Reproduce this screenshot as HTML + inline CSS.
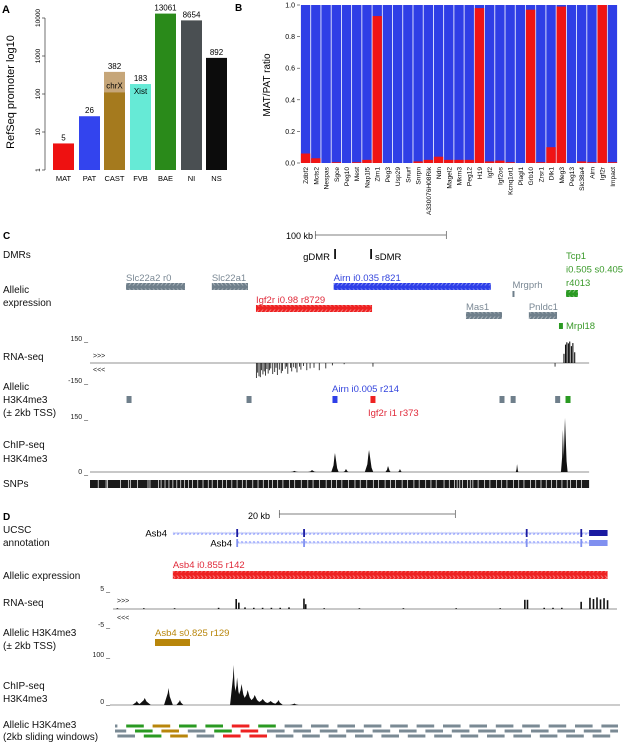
<!DOCTYPE html>
<html><head><meta charset="utf-8">
<style>
html,body{margin:0;padding:0;background:#fff;}
svg{display:block;font-family:"Liberation Sans",Arial,sans-serif;}
.lbl{font-size:10px;fill:#111;}
.tk{font-size:7px;fill:#222;}
</style></head>
<body>
<svg id="fig" width="630" height="742" viewBox="0 0 630 742" xmlns="http://www.w3.org/2000/svg">
<defs>
<pattern id="chevR" width="4" height="7" patternUnits="userSpaceOnUse"><path d="M0.8,1.5 L3,3.5 L0.8,5.5" fill="none" stroke="#fff" stroke-opacity="0.5" stroke-width="0.7"/></pattern>
<pattern id="chevL" width="4" height="7" patternUnits="userSpaceOnUse"><path d="M3.2,1.5 L1,3.5 L3.2,5.5" fill="none" stroke="#fff" stroke-opacity="0.5" stroke-width="0.7"/></pattern>
<pattern id="chevT" width="4" height="4" patternUnits="userSpaceOnUse"><path d="M1,1 L2.8,2 L1,3" fill="none" stroke="#7f8fff" stroke-width="0.6"/></pattern>
</defs>
<g id="static">
<text x="2" y="13" font-size="11" font-weight="bold">A</text>
<text x="235" y="11" font-size="10" font-weight="bold">B</text>
<text x="3" y="239" font-size="10" font-weight="bold">C</text>
<text x="3" y="520" font-size="10" font-weight="bold">D</text>
<text transform="translate(14,92) rotate(-90)" text-anchor="middle" font-size="11">RefSeq promoter log10</text>
<text transform="translate(270,85) rotate(-90)" text-anchor="middle" font-size="10">MAT/PAT ratio</text>

<text class="lbl" x="3" y="258">DMRs</text>
<text class="lbl" x="3" y="293">Allelic</text>
<text class="lbl" x="3" y="306">expression</text>
<text class="lbl" x="3" y="360">RNA-seq</text>
<text class="lbl" x="3" y="390">Allelic</text>
<text class="lbl" x="3" y="403">H3K4me3</text>
<text class="lbl" x="3" y="416">(± 2kb TSS)</text>
<text class="lbl" x="3" y="448">ChIP-seq</text>
<text class="lbl" x="3" y="462">H3K4me3</text>
<text class="lbl" x="3" y="487">SNPs</text>
<text x="313" y="239" text-anchor="end" style="font-size:9px">100 kb</text>
<text x="330" y="260" text-anchor="end" font-size="9.5">gDMR</text>
<text x="375" y="260" font-size="9.5">sDMR</text>
<text class="tk" x="88" y="341" text-anchor="end">150 _</text>
<text class="tk" x="88" y="383" text-anchor="end">-150 _</text>
<text class="tk" x="93" y="358">&gt;&gt;&gt;</text>
<text class="tk" x="93" y="372">&lt;&lt;&lt;</text>
<text class="tk" x="88" y="419" text-anchor="end">150 _</text>
<text class="tk" x="88" y="474" text-anchor="end">0 _</text>

<text class="lbl" x="3" y="533">UCSC</text>
<text class="lbl" x="3" y="546">annotation</text>
<text class="lbl" x="3" y="579">Allelic expression</text>
<text class="lbl" x="3" y="606">RNA-seq</text>
<text class="lbl" x="3" y="636">Allelic H3K4me3</text>
<text class="lbl" x="3" y="649">(± 2kb TSS)</text>
<text class="lbl" x="3" y="689">ChIP-seq</text>
<text class="lbl" x="3" y="702">H3K4me3</text>
<text class="lbl" x="3" y="728">Allelic H3K4me3</text>
<text class="lbl" x="3" y="740">(2kb sliding windows)</text>
<text x="270" y="519" text-anchor="end" font-size="9">20 kb</text>
<text class="tk" x="110" y="591" text-anchor="end">5 _</text>
<text class="tk" x="110" y="627" text-anchor="end">-5 _</text>
<text class="tk" x="117" y="603">&gt;&gt;&gt;</text>
<text class="tk" x="117" y="620">&lt;&lt;&lt;</text>
<text class="tk" x="110" y="657" text-anchor="end">100 _</text>
<text class="tk" x="110" y="704" text-anchor="end">0 _</text>
</g>
<g id="dyn"></g>
</svg>
<script>
// ---------- Panel A data ----------
const aCategories = ["MAT","PAT","CAST","FVB","BAE","NI","NS"];
const aValues = [5,26,382,183,13061,8654,892];
const aColors = ["#ee1111","#3344ee","#a57a1e","#66ead6","#2a8a1a","#4a4f52","#0c0c0c"];
const aCastChrX = 110;
const aTicks = [1,10,100,1000,10000];
// ---------- Panel B data ----------
const bGenes = ["Zdbf2","Mcts2","Nespas","Sgce","Peg10","Mest","Nap1l5","Zim1","Peg3","Usp29","Snurf","Snrpn","A330076H08Rik","Ndn","Magel2","Mkrn3","Peg12","H19","Igf2","Igf2os","Kcnq1ot1","Plagl1","Grb10","Zrsr1","Dlk1","Meg3","Peg13","Slc38a4","Airn","Igf2r","Impact"];
const bMatFraction = [0.06,0.03,0.0,0.005,0.0,0.005,0.02,0.93,0.0,0.0,0.0,0.01,0.02,0.04,0.02,0.02,0.02,0.98,0.01,0.015,0.005,0.0,0.97,0.005,0.10,0.99,0.0,0.01,0.005,1.0,0.005];
const bTicks = [0,0.2,0.4,0.6,0.8,1.0];
// ---------- Panel C data (kb) ----------
const cGenes = [
 ["Slc22a2 r0",27.5,72.5,0,"gray","R"],["Slc22a1",93,120.6,0,"gray","L"],
 ["Airn i0.035 r821",186,306,0,"blue","R"],["Igf2r i0.98 r8729",126.7,215.3,1,"red","L"],
 ["Mas1",287,314.5,2,"gray","L"],["Pnldc1",335,356.5,2,"gray","L"]];
const cDMRs = [187,214.5];
const cRnaNegPos = [127,128,129,130,131,132,133,134,135,136,137,138,139.5,141,142,143,144.5,146,147,149,150,151,153,154,155.5,157,158,160,161,163,165.5,168,171,175,180,185,194,216,355];
const cRnaNegVal = [125,80,110,118,60,95,70,105,50,88,60,45,92,75,40,100,55,85,66,48,30,90,40,70,35,45,78,30,55,25,60,45,40,60,45,20,10,30,30];
const cRnaPosPos = [361.8,363,364,365.2,366.2,367.5,368.6,370];
const cRnaPosVal = [60,120,135,128,140,110,130,70];
const cH3Pos = [29.8,121.4,187,216,314.5,323,357,364.9];
const cH3Col = ["gray","gray","blue","red","gray","gray","gray","green"];
const cChipPos = [156,169.5,187,195.4,213,227.5,236.6,326,361,362.6];
const cChipVal = [3,5,51,8,59,16,8,21,113,145];
const cChipWid = [3,3,2.8,2,3.2,2,1.5,1,1.5,2];
const cSnpGaps = [6,12,13,23,29,30.5,36,44,45.5,52,54,57,60,63,66,69,72,75,78,82,86,90,93,97,101,104,108,112,116,119,124,128,132,136,139,143,147,152,156,161,166,170,175,180,184,188,192,197,202,206,211,216,220,225,229,233,238,242,247,251,256,260,264,270,274,278,280,282,284,288,290,292,296,301,305,310,314,318,323,327,331,336,340,344,348,352,356,360,364,366.5,371,375];
// ---------- Panel D data (kb) ----------
const dExons = [14.1,21.7,47,53.2];
const dRnaPos = [0.5,3.5,7,12,14,14.3,15,16,17,18,19,20,21.7,21.9,24,28,33,39,44,46.8,47.1,49,50,51,53.2,54.2,54.6,55,55.4,55.8,56.2];
const dRnaVal = [0.2,0.2,0.2,0.3,2.5,1.6,0.4,0.3,0.3,0.3,0.3,0.4,2.6,1.2,0.2,0.2,0.2,0.2,0.2,2.3,2.3,0.3,0.3,0.3,1.8,2.8,2.5,2.9,2.4,2.7,2.2];
const dChipPos = [2.7,3.6,6.3,7.6,13.7,14.1,14.6,15.3,16.1,17,17.9,18.8,20.6];
const dChipVal = [8,14,34,10,80,55,42,30,20,12,8,10,3];
const dChipWid = [0.5,0.7,0.5,0.4,0.4,0.5,0.7,0.8,0.9,1.0,1.0,0.5,0.5];
const dWindowColors = "gggGGGOOOGggGGRRRRGgggggggggggggggggggggggggggggggggggggggg".split("");

const NS="http://www.w3.org/2000/svg";
const root=document.getElementById("dyn");
function mk(tag,attrs,parent){const e=document.createElementNS(NS,tag);for(const k in attrs)e.setAttribute(k,attrs[k]);(parent||root).appendChild(e);return e;}
const COL={gray:"#6f7f8b",blue:"#2e3fe8",red:"#ee2222",green:"#2a9a22",gold:"#b8860b"};
const TXT={gray:"#7a8894",blue:"#3344dd",red:"#e02a3a",green:"#3a9a2a"};

// ---- Panel A ----
const aX0=[53,79,104,130,155,181,206], aW=21;
function aY(v){return 170-38*Math.log10(v);}
let e=mk("line",{x1:45,y1:aY(10000),x2:45,y2:170,stroke:"#333","stroke-width":0.7});


aTicks.forEach(t=>{
 let l=mk("line",{x1:42,y1:aY(t),x2:45,y2:aY(t),stroke:"#333","stroke-width":0.7});
 
 
 let tx=mk("text",{transform:`translate(40,${aY(t)}) rotate(-90)`,"text-anchor":"middle","font-size":6.5});
 tx.textContent=String(t);
 
 
});
aCategories.forEach((c,i)=>{
 const x=aX0[i];
 let r=mk("rect",{x:x,y:aY(aValues[i]),width:aW,height:170-aY(aValues[i]),fill:i===2?"#c6a679":aColors[i]});
 
 
 if(i===2){
  let r2=mk("rect",{x:x,y:aY(aCastChrX),width:aW,height:170-aY(aCastChrX),fill:aColors[2]});
  
  
  let t=mk("text",{x:x+aW/2,y:aY(aCastChrX)-4,"text-anchor":"middle","font-size":8});t.textContent="chrX";
  
  
 }
 if(i===3){
  let t=mk("text",{x:x+aW/2,y:aY(aValues[3])+10,"text-anchor":"middle","font-size":8});t.textContent="Xist";
  
  
 }
 let v=mk("text",{x:x+aW/2,y:aY(aValues[i])-3,"text-anchor":"middle","font-size":8});v.textContent=String(aValues[i]);
 
 
 let cl=mk("text",{x:x+aW/2,y:181,"text-anchor":"middle","font-size":7.5});cl.textContent=c;
 
 
});

// ---- Panel B ----
const bL=300.5,bR=617.5,bT=5,bB=163;
const bw=(bR-bL)/bGenes.length;
function bY(v){return bB-(bB-bT)*v;}
bTicks.forEach(t=>{
 let l=mk("line",{x1:297,y1:bY(t),x2:300,y2:bY(t),stroke:"#333","stroke-width":0.6});
 
 
 let tx=mk("text",{x:295,y:bY(t)+2.5,"text-anchor":"end","font-size":7});tx.textContent=t.toFixed(1);
 
 
});
bGenes.forEach((g,i)=>{
 const x=bL+i*bw;
 let b=mk("rect",{x:x+0.4,y:bT,width:bw-0.8,height:bB-bT,fill:"#2f3ee6"});
 
 
 if(bMatFraction[i]>0){
  let r=mk("rect",{x:x+0.4,y:bY(bMatFraction[i]),width:bw-0.8,height:bB-bY(bMatFraction[i]),fill:"#f01414"});
  
  
 }
 let t=mk("text",{transform:`translate(${x+bw/2+2.5},167) rotate(-90)`,"text-anchor":"end","font-size":6.6});t.textContent=g;
 
 
});

// ---- Panel C ----
function xC(kb){return 90+1.31*kb;}
e=mk("path",{d:`M${xC(172)},231V239M${xC(172)},235H${xC(272)}M${xC(272)},231V239`,stroke:"#555","stroke-width":0.7,fill:"none"});


cDMRs.forEach((p,i)=>{
 let r=mk("rect",{x:xC(p)-0.8,y:249,width:1.8,height:10,fill:"#111"});
 
 
});
const cRowY=[283,305,312];
cGenes.forEach(g=>{
 const [name,s,en,row,col,dir]=g;
 const y=cRowY[row];
 let r=mk("rect",{x:xC(s),y:y,width:xC(en)-xC(s),height:7,fill:COL[col]});
 
 
 mk("rect",{x:xC(s),y:y,width:xC(en)-xC(s),height:7,fill:dir==="R"?"url(#chevR)":"url(#chevL)"});
 let t=mk("text",{x:xC(s),y:y-2,"font-size":9.5,fill:TXT[col]});t.textContent=name;
 
 
});
e=mk("rect",{x:xC(322.5),y:291,width:2,height:6,fill:COL.gray});


e=mk("text",{x:xC(322.5),y:288,"font-size":9.5,fill:TXT.gray});e.textContent="Mrgprh";


e=mk("rect",{x:xC(363.4),y:290,width:xC(372.5)-xC(363.4),height:7,fill:COL.green});


mk("rect",{x:xC(363.4),y:290,width:xC(372.5)-xC(363.4),height:7,fill:"url(#chevR)"});
["Tcp1","i0.505 s0.405","r4013"].forEach((s,i)=>{
 let t=mk("text",{x:566,y:259+13.5*i,"font-size":9.5,fill:TXT.green});t.textContent=s;
 
 
});
e=mk("rect",{x:xC(358),y:323,width:xC(361)-xC(358),height:6,fill:COL.green});


e=mk("text",{x:566,y:329,"font-size":9.5,fill:TXT.green});e.textContent="Mrpl18";


const cBase=363;
function cRnaPosY(v){return cBase-23*v/150;}
function cRnaNegY(v){return cBase+18*v/150;}
e=mk("line",{x1:xC(0),y1:cBase,x2:xC(381),y2:cBase,stroke:"#222","stroke-width":0.6});


cRnaNegPos.forEach((p,i)=>{
 let l=mk("line",{x1:xC(p),y1:cBase,x2:xC(p),y2:cRnaNegY(cRnaNegVal[i]),stroke:"#111","stroke-width":0.8});
 
 
});
cRnaPosPos.forEach((p,i)=>{
 let l=mk("line",{x1:xC(p),y1:cBase,x2:xC(p),y2:cRnaPosY(cRnaPosVal[i]),stroke:"#111","stroke-width":1.1});
 
 
});
cH3Pos.forEach((p,i)=>{
 let r=mk("rect",{x:xC(p)-2.5,y:396,width:5,height:7,fill:COL[cH3Col[i]]});
 
 
});
e=mk("text",{x:332,y:392,"font-size":9.5,fill:TXT.blue});e.textContent="Airn i0.005 r214";


e=mk("text",{x:368,y:416,"font-size":9.5,fill:TXT.red});e.textContent="Igf2r i1 r373";


const cChipBase=472;
function cChipY(v){return cChipBase-56*v/150;}
e=mk("line",{x1:xC(0),y1:cChipBase,x2:xC(381),y2:cChipBase,stroke:"#222","stroke-width":0.6});


cChipPos.forEach((p,i)=>{
 const w=cChipWid[i];
 let pk=mk("path",{d:`M${xC(p-w)},${cChipBase}L${xC(p-w*0.4)},${cChipY(cChipVal[i]*0.35)}L${xC(p-w*0.15)},${cChipY(cChipVal[i]*0.8)}L${xC(p)},${cChipY(cChipVal[i])}L${xC(p+w*0.3)},${cChipY(cChipVal[i]*0.6)}L${xC(p+w*0.6)},${cChipY(cChipVal[i]*0.2)}L${xC(p+w)},${cChipBase}Z`,fill:"#111"});
 
 
});
e=mk("rect",{x:xC(0),y:480,width:xC(381)-xC(0),height:8,fill:"#1a1a1a"});


cSnpGaps.forEach(p=>{
 let g=mk("rect",{x:xC(p),y:480,width:0.7,height:8,fill:"#fff"});
 
 
});

// ---- Panel D ----
function xD(kb){return 113+8.8*kb;}
e=mk("path",{d:`M${xD(18.9)},510V518M${xD(18.9)},514H${xD(38.9)}M${xD(38.9)},510V518`,stroke:"#555","stroke-width":0.7,fill:"none"});


[[6.8,533,"#1a1aa0","Asb4",167],[14.1,543,"#8090f0","Asb4",232]].forEach((t,ti)=>{
 const [s,y,col,name,tx]=t;
 let l=mk("line",{x1:xD(s),y1:y,x2:xD(56.2),y2:y,stroke:ti?"#a8b4f4":"#9aa6ee","stroke-width":0.8});
 
 
 mk("rect",{x:xD(s),y:y-2,width:xD(56.2)-xD(s),height:4,fill:"url(#chevT)"});
 dExons.forEach(ex=>{
  let r=mk("rect",{x:xD(ex)-0.8,y:y-4,width:1.8,height:8,fill:col});
  
  
 });
 let r=mk("rect",{x:xD(54.1),y:y-3,width:xD(56.2)-xD(54.1),height:6,fill:col});
 
 
 let lab=mk("text",{x:tx,y:y+3.5,"text-anchor":"end","font-size":9.5});lab.textContent=name;
 
 
});
e=mk("rect",{x:xD(6.8),y:571,width:xD(56.2)-xD(6.8),height:8,fill:"#ee2222"});


mk("rect",{x:xD(6.8),y:571,width:xD(56.2)-xD(6.8),height:8,fill:"url(#chevR)"});
e=mk("text",{x:xD(6.8),y:568,"font-size":9.5,fill:TXT.red});e.textContent="Asb4 i0.855 r142";


const dBase=609;
function dRnaY(v){return dBase-20*v/5;}
e=mk("line",{x1:xD(0),y1:dBase,x2:617,y2:dBase,stroke:"#222","stroke-width":0.6});


dRnaPos.forEach((p,i)=>{
 let l=mk("line",{x1:xD(p),y1:dBase,x2:xD(p),y2:dRnaY(dRnaVal[i]),stroke:"#111","stroke-width":1.6});
 
 
});
e=mk("rect",{x:155,y:639,width:35,height:7,fill:COL.gold});


e=mk("text",{x:155,y:636,"font-size":9.5,fill:COL.gold});e.textContent="Asb4 s0.825 r129";


const dChipBase=705;
function dChipY(v){return dChipBase-50*v/100;}
e=mk("line",{x1:110,y1:dChipBase,x2:620,y2:dChipBase,stroke:"#333","stroke-width":0.6});


dChipPos.forEach((p,i)=>{
 const w=dChipWid[i];
 let pk=mk("path",{d:`M${xD(p-w)},${dChipBase}L${xD(p-w*0.15)},${dChipY(dChipVal[i]*0.7)}L${xD(p)},${dChipY(dChipVal[i])}L${xD(p+w*0.3)},${dChipY(dChipVal[i]*0.5)}L${xD(p+w)},${dChipBase}Z`,fill:"#111"});
 
 
});
const wc={g:"#7a8a94",G:"#2a9a22",O:"#b8860b",R:"#ee2222"};
dWindowColors.forEach((c,k)=>{
 const s=-1.5+k, en=s+2;
 const x1=Math.max(xD(s),115), x2=Math.min(xD(en),618);
 if(x2<=x1)return;
 const y=726+5*(k%3);
 let r=mk("rect",{x:x1,y:y-1.5,width:x2-x1,height:3,fill:wc[c]});
 
 
});
</script>
</body></html>
